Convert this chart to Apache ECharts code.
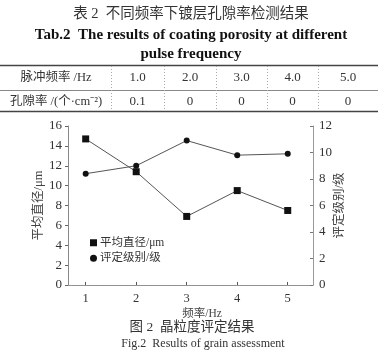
<!DOCTYPE html>
<html><head><meta charset="utf-8">
<script src="https://cdn.jsdelivr.net/npm/echarts@6/dist/echarts.min.js"></script>
<style>html,body{margin:0;padding:0;background:#fff}#c{width:382px;height:362px}</style>
</head><body><div id="c"></div>
<script>
// ---- data ----
const freq = [1, 2, 3, 4, 5];
const grainSize = [14.7, 11.4, 6.9, 9.5, 7.5];     // 平均直径/μm (left axis)
const grade = [8.4, 9.0, 10.9, 9.8, 9.9];          // 评定级别/级 (right axis)
const xTicks = [1, 2, 3, 4, 5];
const tableHead = '脉冲频率 /Hz';
const tableRow = '孔隙率 /(个·cm⁻²)';
const tableFreq = ['1.0', '2.0', '3.0', '4.0', '5.0'];
const tablePorosity = ['0.1', '0', '0', '0', '0'];

const F = '"Liberation Serif","Times New Roman","Noto Sans CJK SC",serif';
const C = '#2a2a2a';

// ---- table (graphic) ----
const g = [];
function txt(x, y, s, size, weight, color) {
  g.push({type: 'text', x: x, y: y, style: {text: s, x: 0, y: 0, align: 'center', verticalAlign: 'middle',
    font: (weight || 'normal') + ' ' + size + 'px ' + F, fill: color || C}});
}
function line(x1, y1, x2, y2, w, col, dash) {
  g.push({type: 'line', shape: {x1: x1, y1: y1, x2: x2, y2: y2},
    style: {stroke: col, lineWidth: w, lineDash: dash || null}});
}
txt(191, 14, '表 2  不同频率下镀层孔隙率检测结果', 14.5, 'normal', '#333');
txt(191, 35, 'Tab.2  The results of coating porosity at different', 15, 'bold', '#111');
txt(191, 54, 'pulse frequency', 15, 'bold', '#111');
const colEdges = [0, 111, 164, 216, 267, 318, 378];
line(0, 65.5, 378, 65.5, 1.6, '#444');
line(0, 90.5, 378, 90.5, 1, '#888');
line(0, 111.5, 378, 111.5, 1.6, '#444');
for (let i = 1; i < colEdges.length - 1; i++) line(colEdges[i] + 0.5, 66, colEdges[i] + 0.5, 111, 1, '#aaa', [1, 2]);
txt(56, 78, tableHead, 12.5, 'normal', '#333');
txt(56, 101.5, tableRow, 12.5, 'normal', '#333');
tableFreq.forEach((s, i) => txt((colEdges[i + 1] + colEdges[i + 2]) / 2, 78, s, 13, 'normal', '#333'));
tablePorosity.forEach((s, i) => txt((colEdges[i + 1] + colEdges[i + 2]) / 2, 101.5, s, 13, 'normal', '#333'));
// captions
txt(202, 313.5, '频率/Hz', 11.5, 'normal', '#444');
txt(192, 327.5, '图 2  晶粒度评定结果', 13.5, 'normal', '#333');
txt(203, 344, 'Fig.2  Results of grain assessment', 12, 'normal', '#333');

const chart = echarts.init(document.getElementById('c'));
chart.setOption({
  animation: false,
  backgroundColor: '#fff',
  graphic: g,
  grid: {left: 68, right: 69, top: 126, bottom: 77},
  legend: {
    orient: 'vertical', left: 85, top: 232, itemGap: 4, itemWidth: 7, itemHeight: 7,
    textStyle: {fontFamily: F, fontSize: 11.5, color: '#333', padding: [0, 0, 0, -2]},
    data: [{name: '平均直径/μm', icon: 'rect'}, {name: '评定级别/级', icon: 'circle'}]
  },
  xAxis: [{
    type: 'value', min: 0.65, max: 5.5,
    axisLine: {show: true, lineStyle: {color: '#888', width: 1}},
    axisTick: {show: true, inside: true, length: 3, customValues: xTicks, lineStyle: {color: '#555'}},
    axisLabel: {customValues: xTicks, fontFamily: F, fontSize: 12.5, color: '#333', margin: 7},
    splitLine: {show: false}
  }, {
    type: 'value', position: 'top', min: 0.65, max: 5.5,
    axisLine: {show: true, lineStyle: {color: '#999', type: [1, 2]}},
    axisTick: {show: false}, axisLabel: {show: false}, splitLine: {show: false}
  }],
  yAxis: [{
    type: 'value', min: 0, max: 16, interval: 2,
    name: '平均直径/μm', nameLocation: 'middle', nameRotate: 90, nameGap: 23, nameMoveOverlap: false,
    nameTextStyle: {fontFamily: F, fontSize: 12.5, color: '#444'},
    axisLine: {show: true, lineStyle: {color: '#888'}},
    axisTick: {show: true, length: 3, lineStyle: {color: '#666'}},
    axisLabel: {fontFamily: F, fontSize: 13, color: '#333', margin: 6},
    splitLine: {show: false}
  }, {
    type: 'value', min: 0, max: 12, interval: 2, position: 'right',
    name: '评定级别/级', nameLocation: 'middle', nameRotate: 90, nameGap: 20, nameMoveOverlap: false,
    nameTextStyle: {fontFamily: F, fontSize: 12.5, color: '#444'},
    axisLine: {show: true, lineStyle: {color: '#999'}},
    axisTick: {show: true, inside: true, length: 3, lineStyle: {color: '#777'}},
    axisLabel: {fontFamily: F, fontSize: 13, color: '#333', margin: 6},
    splitLine: {show: false}
  }],
  series: [{
    name: '平均直径/μm', type: 'line', yAxisIndex: 0,
    data: freq.map((x, i) => [x, grainSize[i]]),
    symbol: 'rect', symbolSize: 7,
    lineStyle: {color: '#555', width: 1}, itemStyle: {color: '#111'}
  }, {
    name: '评定级别/级', type: 'line', yAxisIndex: 1,
    data: freq.map((x, i) => [x, grade[i]]),
    symbol: 'circle', symbolSize: 6,
    lineStyle: {color: '#555', width: 1}, itemStyle: {color: '#111'}
  }]
});
</script></body></html>
